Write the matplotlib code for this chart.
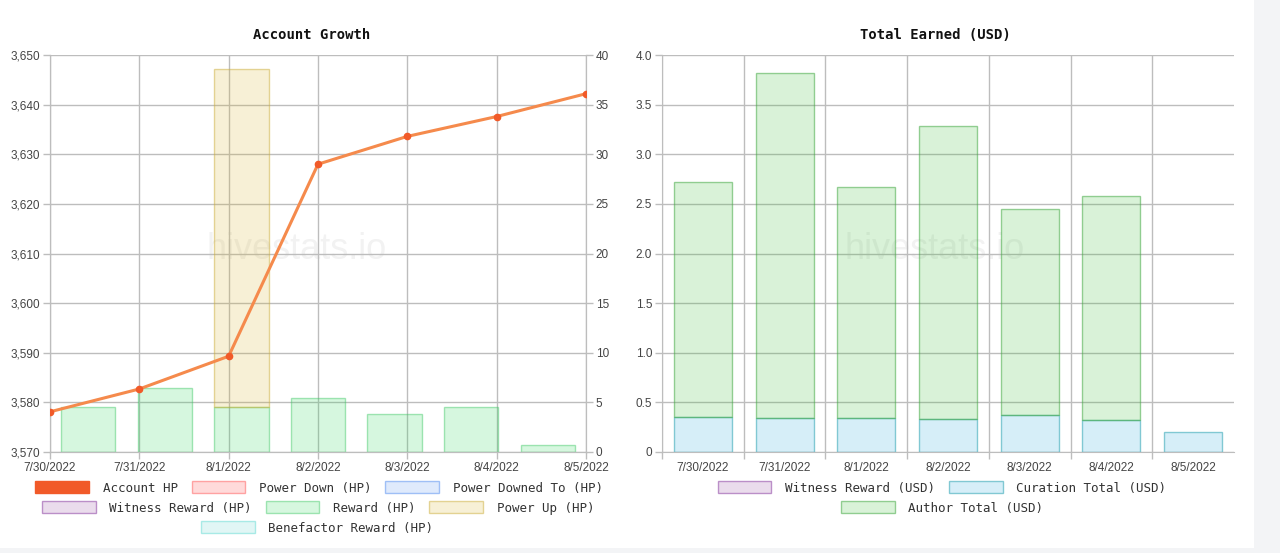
import matplotlib
matplotlib.use('Agg')
import matplotlib.pyplot as plt
from matplotlib.patches import Patch, Rectangle
from matplotlib.ticker import FixedLocator
import numpy as np

# ---------------- data ----------------
dates = ['7/30/2022', '7/31/2022', '8/1/2022', '8/2/2022', '8/3/2022', '8/4/2022', '8/5/2022']

account_hp = [3578.1, 3582.7, 3589.3, 3628.0, 3633.6, 3637.6, 3642.2]
power_down_hp = [0, 0, 0, 0, 0, 0, 0]
power_downed_to_hp = [0, 0, 0, 0, 0, 0, 0]
witness_reward_hp = [0, 0, 0, 0, 0, 0, 0]
reward_hp = [4.53, 6.48, 4.56, 5.44, 3.83, 4.53, 0.70]
power_up_hp = [0, 0, 34.0, 0, 0, 0, 0]
benefactor_reward_hp = [0, 0, 0, 0, 0, 0, 0]

witness_reward_usd = [0, 0, 0, 0, 0, 0, 0]
curation_total_usd = [0.356, 0.346, 0.34, 0.336, 0.376, 0.319, 0.198]
author_total_usd = [2.36, 3.47, 2.33, 2.95, 2.07, 2.26, 0.0]

left_ticks = [3570, 3580, 3590, 3600, 3610, 3620, 3630, 3640, 3650]
right_ticks = [0, 5, 10, 15, 20, 25, 30, 35, 40]
usd_ticks = [0, 0.5, 1.0, 1.5, 2.0, 2.5, 3.0, 3.5, 4.0]

# ---------------- style ----------------
W, H = 1280, 553
GRID = '#bdbdbd'
TICKC = '#444444'
TICKFONT = dict(family='Liberation Sans', size=8.5)
MONO = 'DejaVu Sans Mono'
WM = '#f2f2f2'

def rgba(r, g, b, a):
    return (r / 255, g / 255, b / 255, a)

c_acc = '#f15a29'
c_line = '#f58a4c'
f_pd, e_pd = rgba(255, 90, 90, 0.22), rgba(255, 90, 90, 0.5)
f_pdt, e_pdt = rgba(80, 140, 240, 0.18), rgba(80, 140, 240, 0.5)
f_wit, e_wit = rgba(150, 80, 160, 0.2), rgba(150, 80, 170, 0.6)
f_rew, e_rew = rgba(50, 215, 95, 0.2), rgba(60, 200, 100, 0.45)
f_pu, e_pu = rgba(215, 180, 50, 0.2), rgba(205, 175, 60, 0.5)
f_ben, e_ben = rgba(60, 200, 190, 0.15), rgba(60, 210, 200, 0.4)
f_cur, e_cur = rgba(50, 170, 220, 0.2), rgba(60, 170, 185, 0.6)
f_aut, e_aut = rgba(65, 190, 60, 0.2), rgba(70, 170, 70, 0.55)

fig = plt.figure(figsize=(W / 100, H / 100), dpi=100)
fig.patch.set_facecolor('#f3f4f6')
fig.add_artist(Rectangle((0, 5 / H), 1254 / W, 548 / H, transform=fig.transFigure,
                         facecolor='white', edgecolor='none', zorder=-5))

n = len(dates)

# ---------------- left chart ----------------
ax1 = fig.add_axes([50 / W, 101 / H, 536 / W, 397 / H])   # bars (right scale)
ax1.set_facecolor('none')
ax1l = ax1.twinx()                                          # line (left scale)
ax1l.set_facecolor('none')

slot = (n - 1) / n
bx = [(i + 0.5) * slot for i in range(n)]
bw = 0.71 * slot

bottom = np.zeros(n)
for vals, fc, ec in [(witness_reward_hp, f_wit, e_wit), (reward_hp, f_rew, e_rew),
                     (power_up_hp, f_pu, e_pu), (benefactor_reward_hp, f_ben, e_ben),
                     (power_down_hp, f_pd, e_pd), (power_downed_to_hp, f_pdt, e_pdt)]:
    v = np.array(vals, dtype=float)
    mask = v > 0
    ax1.bar(np.array(bx)[mask], v[mask], width=bw, bottom=bottom[mask], facecolor=fc,
            edgecolor=ec, linewidth=1, zorder=2)
    bottom += v

ax1l.plot(range(n), account_hp, color=c_line, linewidth=2.2, zorder=3)
ax1l.plot(range(n), account_hp, linestyle='none', marker='o', markersize=4.5,
          color=c_acc, zorder=4)

ax1.set_xlim(0, n - 1)
ax1.set_ylim(0, 40)
ax1l.set_ylim(3570, 3650)
ax1.set_xticks(range(n))
ax1.set_xticklabels(dates, **TICKFONT, color=TICKC)
ax1.yaxis.tick_right()
ax1.yaxis.set_label_position('right')
ax1.set_yticks(right_ticks)
ax1.set_yticklabels([str(t) for t in right_ticks], **TICKFONT, color=TICKC)
ax1l.yaxis.tick_left()
ax1l.set_yticks(left_ticks)
ax1l.set_yticklabels([f'{t:,}' for t in left_ticks], **TICKFONT, color=TICKC)
ax1.set_axisbelow(True)
ax1.grid(True, color=GRID, linewidth=1)
for a in (ax1, ax1l):
    a.tick_params(axis='both', length=5, width=1, color=GRID, pad=2)
    for s in ('left', 'right', 'bottom'):
        a.spines[s].set_color(GRID)
    a.spines['top'].set_visible(False)
ax1.tick_params(axis='x', pad=2)
ax1.text(0.46, 0.511, 'hivestats.io', transform=ax1.transAxes, ha='center', va='center',
         family='Liberation Sans', fontsize=26, color=WM, zorder=0)

# ---------------- right chart ----------------
ax2 = fig.add_axes([662 / W, 101 / H, 572 / W, 397 / H])
ax2.set_facecolor('none')
x2 = np.arange(n)
bw2 = 0.71
cur = np.array(curation_total_usd)
aut = np.array(author_total_usd)
wit = np.array(witness_reward_usd)
m = wit > 0
ax2.bar(x2[m], wit[m], width=bw2, facecolor=f_wit, edgecolor=e_wit, linewidth=1, zorder=2)
m = cur > 0
ax2.bar(x2[m], cur[m], width=bw2, bottom=wit[m], facecolor=f_cur, edgecolor=e_cur,
        linewidth=1, zorder=2)
m = aut > 0
ax2.bar(x2[m], aut[m], width=bw2, bottom=(wit + cur)[m], facecolor=f_aut, edgecolor=e_aut,
        linewidth=1, zorder=2)

ax2.set_xlim(-0.5, n - 0.5)
ax2.set_ylim(0, 4)
ax2.set_xticks(x2)
ax2.set_xticklabels(dates, **TICKFONT, color=TICKC)
ax2.xaxis.set_minor_locator(FixedLocator(np.arange(n) - 0.5))
ax2.tick_params(axis='x', which='major', length=0, pad=7)
ax2.tick_params(axis='x', which='minor', length=5, width=1, color=GRID)
ax2.set_yticks(usd_ticks)
ax2.set_yticklabels(['0' if t == 0 else f'{t:.1f}' for t in usd_ticks], **TICKFONT, color=TICKC)
ax2.tick_params(axis='y', length=5, width=1, color=GRID, pad=2)
ax2.set_axisbelow(True)
ax2.grid(True, axis='y', color=GRID, linewidth=1)
ax2.grid(True, axis='x', which='minor', color=GRID, linewidth=1)
for s in ('left', 'bottom'):
    ax2.spines[s].set_color(GRID)
for s in ('top', 'right'):
    ax2.spines[s].set_visible(False)
ax2.text(0.477, 0.509, 'hivestats.io', transform=ax2.transAxes, ha='center', va='center',
         family='Liberation Sans', fontsize=26, color=WM, zorder=0)

# ---------------- titles ----------------
fig.text(312 / W, 1 - 35 / H, 'Account Growth', family=MONO, weight='bold', fontsize=10,
         ha='center', va='center', color='#111111')
fig.text(935 / W, 1 - 35 / H, 'Total Earned (USD)', family=MONO, weight='bold', fontsize=10,
         ha='center', va='center', color='#111111')

# ---------------- legends ----------------
def row_legend(items, cx, cy):
    handles = [Patch(facecolor=fc, edgecolor=ec, linewidth=1) for _, fc, ec in items]
    labels = [lab for lab, _, _ in items]
    leg = fig.legend(handles, labels, loc='center', bbox_to_anchor=(cx / W, 1 - cy / H),
                     ncol=len(items), frameon=False, prop=dict(family=MONO, size=9),
                     handlelength=4.3, handleheight=1.05, handletextpad=1.1,
                     columnspacing=1.1, borderpad=0, borderaxespad=0)
    for t in leg.get_texts():
        t.set_color('#333333')
    return leg

row_legend([('Account HP', c_acc, c_acc), ('Power Down (HP)', f_pd, e_pd),
            ('Power Downed To (HP)', f_pdt, e_pdt)], 319, 488)
row_legend([('Witness Reward (HP)', f_wit, e_wit), ('Reward (HP)', f_rew, e_rew),
            ('Power Up (HP)', f_pu, e_pu)], 318, 508)
row_legend([('Benefactor Reward (HP)', f_ben, e_ben)], 317, 528)
row_legend([('Witness Reward (USD)', f_wit, e_wit), ('Curation Total (USD)', f_cur, e_cur)],
           942, 488)
row_legend([('Author Total (USD)', f_aut, e_aut)], 942, 508)

fig.savefig('out.png', dpi=100, facecolor=fig.get_facecolor())
